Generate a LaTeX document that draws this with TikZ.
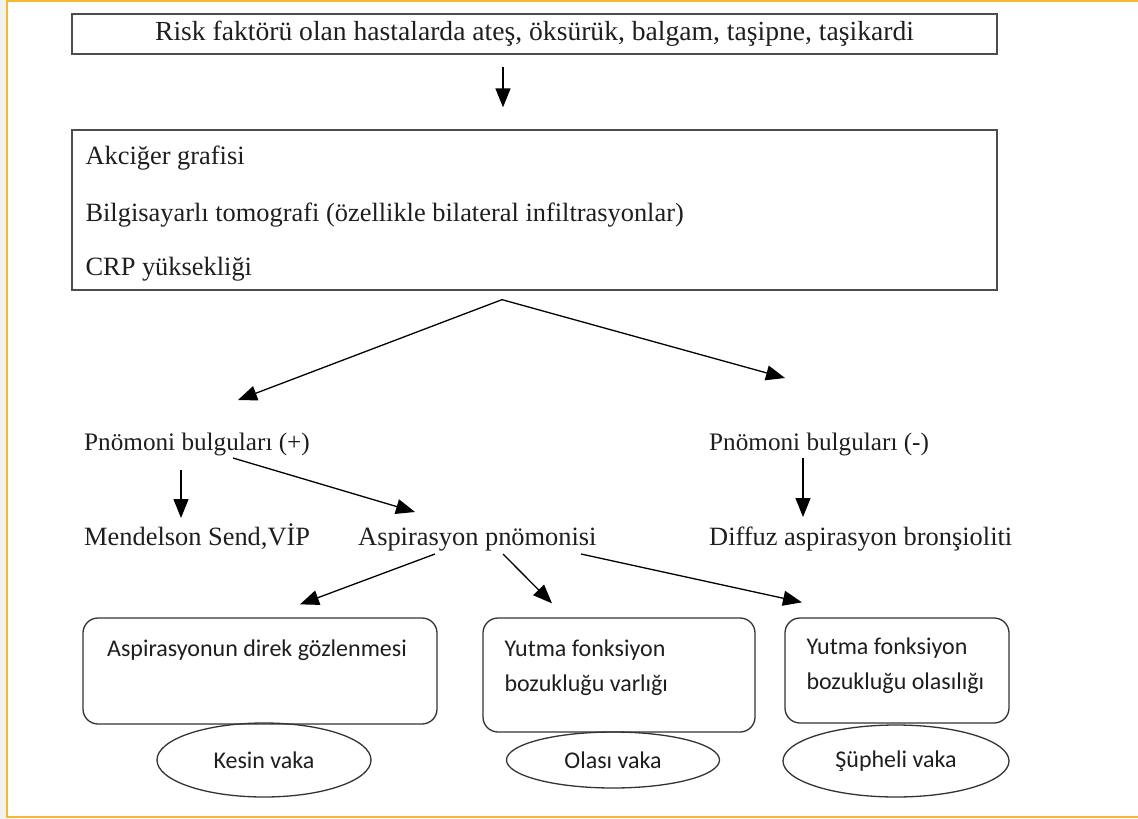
\documentclass[tikz,border=0pt]{standalone}
\usepackage{fontspec}
\setmainfont{Liberation Serif}
\newfontfamily\calibrifont{Carlito}
\usetikzlibrary{arrows.meta,shapes.geometric}
\definecolor{frameorange}{RGB}{247,185,52}
\definecolor{inkgray}{RGB}{30,30,30}

\begin{document}
\begin{tikzpicture}[x=1pt,y=-1pt,
    arr/.style={line width=1.3pt,-{Triangle[length=19pt,width=15pt]}},
    sqbox/.style={draw=black!70,line width=1.3pt,minimum width=925pt},
    rbox/.style={draw=black!80,line width=1.3pt,rounded corners=15pt},
    oval/.style={ellipse,draw=black!80,line width=1.3pt,inner sep=0pt,text=inkgray,font=\calibrifont\fontsize{24}{28}\selectfont},
    txt/.style={inner sep=0pt,text=inkgray,font=\fontsize{#1}{28}\selectfont},
    txt/.default=26.4,
    stxt/.style={inner sep=0pt,text=inkgray,font=\calibrifont\fontsize{24}{35}\selectfont}]
  \useasboundingbox (0,0) rectangle (1138,819);
  % page frame
  \fill[gray!10] (0,0) rectangle (6,819);
  \draw[frameorange,line width=2pt] (1138,1) -- (7,1) -- (7,817) -- (1138,817);
  % top boxes
  \node[sqbox,minimum height=40pt,txt=27.6] (risk) at (534.5,34) {Risk faktörü olan hastalarda ateş, öksürük, balgam, taşipne, taşikardi};
  \node[sqbox,minimum height=160pt] (diag) at (534.5,210) {};
  \node[txt,anchor=base west] (akc) at ([shift={(14,35)}]diag.north west) {Akciğer grafisi};
  \node[txt,anchor=base west] (bt) at ([shift={(14,92)}]diag.north west) {Bilgisayarlı tomografi (özellikle bilateral infiltrasyonlar)};
  \node[txt,anchor=base west] (crp) at ([shift={(14,146)}]diag.north west) {CRP yüksekliği};
  % findings
  \node[txt=25.2,anchor=base west] (pplus) at (84,450) {Pnömoni bulguları (+)};
  \node[txt=25.2,anchor=base west] (pminus) at (709,450) {Pnömoni bulguları (-)};
  \node[txt,anchor=base west] (mendel) at (84,545) {Mendelson Send,VİP};
  \node[txt,anchor=base west] (asp) at (358,545) {Aspirasyon pnömonisi};
  \node[txt,anchor=base west] (diffuz) at (709,545) {Diffuz aspirasyon bronşioliti};
  % bottom boxes
  \node[rbox,minimum width=354pt,minimum height=106pt] (obs) at (260,671) {};
  \node[rbox,minimum width=272pt,minimum height=114pt] (varlik) at (619,675) {};
  \node[rbox,minimum width=224pt,minimum height=105pt] (olasi) at (897,670.5) {};
  \node[stxt,anchor=north] (obst) at ([shift={(-3,22)}]obs.north) {Aspirasyonun direk gözlenmesi};
  \node[stxt,anchor=north west,align=left] (varlikt) at ([shift={(22,22)}]varlik.north west) {Yutma fonksiyon\\bozukluğu varlığı};
  \node[stxt,anchor=north west,align=left] (olasit) at ([shift={(22,20)}]olasi.north west) {Yutma fonksiyon\\bozukluğu olasılığı};
  % cases
  \node[oval,minimum width=214pt,minimum height=74pt] (kesin) at (264,760) {Kesin vaka};
  \node[oval,minimum width=213pt,minimum height=56pt] (olasivaka) at (613,760) {Olası vaka};
  \node[oval,minimum width=226pt,minimum height=72pt] (supheli) at (896,761) {Şüpheli vaka};
  % arrows
  \draw[arr] ([shift={(-31.5,12)}]risk.south) -- ([shift={(-31.5,-22)}]diag.north);
  \draw[arr] ([shift={(-32.5,9)}]diag.south) -- ([shift={(154,-50)}]pplus.base west);
  \draw[arr] ([shift={(-32.5,9)}]diag.south) -- ([shift={(76,-72)}]pminus.base west);
  \draw[arr] ([shift={(97,20)}]pplus.base west) -- ([shift={(97,-27)}]mendel.base west);
  \draw[arr] ([shift={(149,8)}]pplus.base west) -- ([shift={(57,-33)}]asp.base west);
  \draw[arr] ([shift={(94,8)}]pminus.base west) -- ([shift={(94,-28)}]diffuz.base west);
  \draw[arr] ([shift={(77,9)}]asp.base west) -- ([shift={(40,-13)}]obs.north);
  \draw[arr] ([shift={(145,9)}]asp.base west) -- ([shift={(-67,-14)}]varlik.north);
  \draw[arr] ([shift={(223,9)}]asp.base west) -- ([shift={(-95,-15)}]olasi.north);
\end{tikzpicture}
\end{document}
